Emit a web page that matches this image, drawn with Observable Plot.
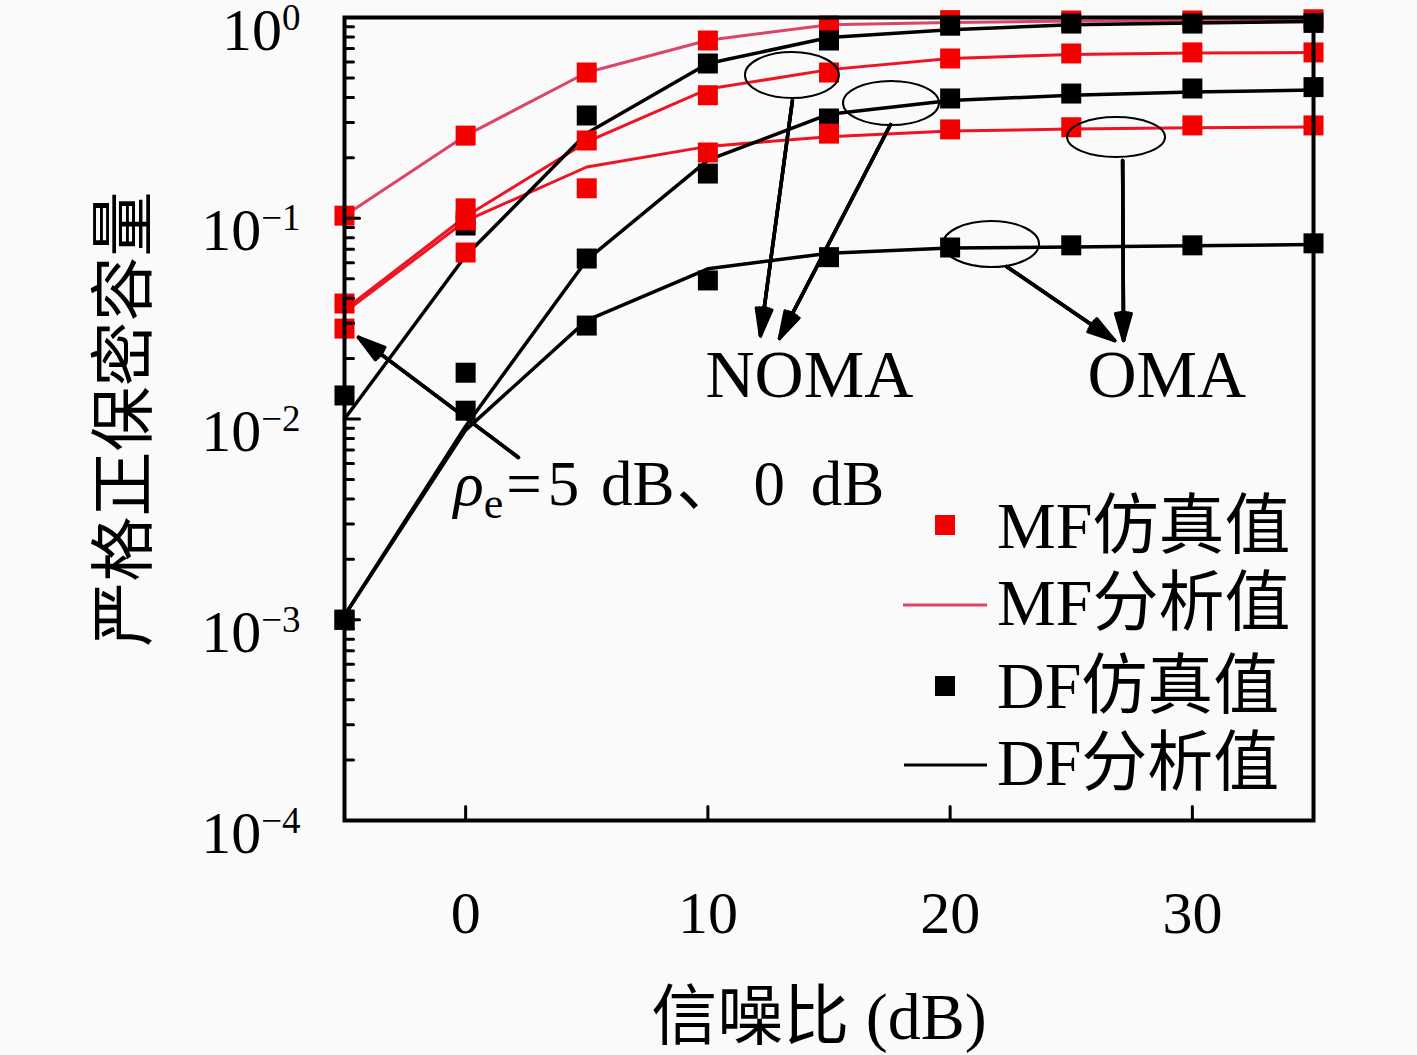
<!DOCTYPE html>
<html><head><meta charset="utf-8">
<script src="https://cdn.jsdelivr.net/npm/d3@7"></script>
<script src="https://cdn.jsdelivr.net/npm/@observablehq/plot@0.6"></script>
<style>
html,body{margin:0;padding:0;background:#fafafa;}
#chart{width:1417px;height:1055px;}
</style></head><body><div id="chart"></div>
<script>
// ---- data ----
const snr = [-5, 0, 5, 10, 15, 20, 25, 30, 35];
// MF analytic curves (red lines)
const mfAnaA = [0.103, 0.258, 0.532, 0.77, 0.92, 0.944, 0.96, 0.965, 0.97];
const mfAnaB = [0.035, 0.102, 0.24, 0.44, 0.55, 0.625, 0.655, 0.665, 0.67];
const mfAnaC = [0.034, 0.097, 0.18, 0.228, 0.255, 0.272, 0.278, 0.282, 0.285];
// DF analytic curves (black lines)
const dfAnaA = [0.0100, 0.065, 0.265, 0.59, 0.795, 0.87, 0.92, 0.94, 0.955];
const dfAnaB = [0.00105, 0.0092, 0.062, 0.195, 0.33, 0.386, 0.41, 0.425, 0.435];
const dfAnaC = [0.00105, 0.0088, 0.031, 0.056, 0.067, 0.071, 0.072, 0.073, 0.074];
// MF simulation (red squares)
const mfSimA = [0.103, 0.258, 0.532, 0.768, 0.912, 0.97, 0.966, 0.966, 0.98];
const mfSimB = [0.0376, 0.112, 0.244, 0.41, 0.532, 0.625, 0.662, 0.67, 0.67];
const mfSimC = [0.0282, 0.0675, 0.141, 0.2126, 0.264, 0.277, 0.284, 0.29, 0.29];
const mfSimExtraX = [0];
const mfSimExtraY = [0.0975];
// DF simulation (black squares)
const dfSimA = [0.0131, 0.092, 0.325, 0.59, 0.768, 0.91, 0.933, 0.933, 0.94];
const dfSimB = [0.001, 0.017, 0.063, 0.167, 0.314, 0.395, 0.418, 0.443, 0.45];
const dfSimC = [0.001, 0.011, 0.0292, 0.049, 0.064, 0.0715, 0.0733, 0.0733, 0.075];
// ticks
const xTicks = [0, 10, 20, 30];
const yMajor = [1e-4, 1e-3, 1e-2, 1e-1, 1];
const yMinor = [];
for (let e = -4; e < 0; e++) for (let k = 2; k <= 9; k++) yMinor.push(k * Math.pow(10, e));
// annotations (data coordinates)
const annoLabels = ["NOMA", "OMA", "ρe=5 dB、0 dB"];
const annoX = [9.9, 25.67, -0.5];
const annoY = [0.0128, 0.0128, 0.00371];
const arrowX1 = [13.49, 17.54, 27.12, 22.33, 2.18];
const arrowY1 = [0.386, 0.293, 0.194, 0.0575, 0.00643];
const arrowX2 = [12.17, 12.96, 27.16, 26.79, -4.42];
const arrowY2 = [0.026, 0.0252, 0.0246, 0.0246, 0.0255];
const ellX = [13.49, 17.58, 26.87, 21.71];
const ellY = [0.514, 0.373, 0.2525, 0.074];
// legend
const legendLabels = ["MF仿真值", "MF分析值", "DF仿真值", "DF分析值"];
const xLabel = "信噪比 (dB)";
const yLabel = "严格正保密容量";

// ---- helpers ----
const rows = (xs, ys) => xs.map((x, i) => ({x, y: ys[i]}));
const RED_LINE_A = "#dc4468", RED_LINE = "#ee1424", RED_DOT = "#f40000";
const SERIF = "'Liberation Serif','Noto Sans CJK SC',serif";
const sq = 20 / Math.sqrt(Math.PI);
const tickShape = {draw(context, l) { context.moveTo(0, 0); context.lineTo(0, -l); }};

const arrows = arrowX1.map((x1, i) => ({x1, y1: arrowY1[i], x2: arrowX2[i], y2: arrowY2[i]}));
const arrowOpts = {x1: "x1", y1: "y1", x2: "x2", y2: "y2", stroke: "black", strokeWidth: 3.5, headLength: 12};
const annos = annoLabels.map((t, i) => ({t, x: annoX[i], y: annoY[i]}));

const svg = Plot.plot({
  width: 1417, height: 1055,
  marginLeft: 344, marginRight: 104, marginTop: 17, marginBottom: 235,
  style: {background: "transparent", fontFamily: SERIF, overflow: "visible"},
  x: {domain: [-5, 35]},
  y: {type: "log", domain: [1e-4, 1]},
  marks: [
    Plot.line(rows(snr, mfAnaA), {x: "x", y: "y", stroke: RED_LINE_A, strokeWidth: 3}),
    Plot.line(rows(snr, mfAnaB), {x: "x", y: "y", stroke: RED_LINE, strokeWidth: 3}),
    Plot.line(rows(snr, mfAnaC), {x: "x", y: "y", stroke: RED_LINE, strokeWidth: 3}),
    Plot.line(rows(snr, dfAnaA), {x: "x", y: "y", stroke: "black", strokeWidth: 3.5}),
    Plot.line(rows(snr, dfAnaB), {x: "x", y: "y", stroke: "black", strokeWidth: 3.5}),
    Plot.line(rows(snr, dfAnaC), {x: "x", y: "y", stroke: "black", strokeWidth: 3.5}),
    Plot.dot(rows(snr, mfSimA), {x: "x", y: "y", symbol: "square", r: sq, fill: RED_DOT}),
    Plot.dot(rows(snr, dfSimA), {x: "x", y: "y", symbol: "square", r: sq, fill: "black"}),
    Plot.dot(rows(snr, dfSimB), {x: "x", y: "y", symbol: "square", r: sq, fill: "black"}),
    Plot.dot(rows(snr, dfSimC), {x: "x", y: "y", symbol: "square", r: sq, fill: "black"}),
    Plot.dot(rows(snr, mfSimB), {x: "x", y: "y", symbol: "square", r: sq, fill: RED_DOT}),
    Plot.dot(rows(snr, mfSimC), {x: "x", y: "y", symbol: "square", r: sq, fill: RED_DOT}),
    Plot.dot(rows(mfSimExtraX, mfSimExtraY), {x: "x", y: "y", symbol: "square", r: sq, fill: RED_DOT}),
    // inward ticks
    Plot.vector(yMajor, {y: d => d, frameAnchor: "left", rotate: 90, length: 15, anchor: "start", shape: tickShape, stroke: "black", strokeWidth: 3}),
    Plot.vector(yMinor, {y: d => d, frameAnchor: "left", rotate: 90, length: 9, anchor: "start", shape: tickShape, stroke: "black", strokeWidth: 3}),
    Plot.vector(xTicks, {x: d => d, frameAnchor: "bottom", rotate: 0, length: 14, anchor: "start", shape: tickShape, stroke: "black", strokeWidth: 3}),
    Plot.axisY({ticks: yMajor, anchor: "left", tickSize: 0, tickPadding: 44, fontSize: 60, dy: 13,
      tickFormat: d => "10^" + Math.round(Math.log10(d)), label: null}),
    Plot.axisX({ticks: xTicks, anchor: "bottom", tickSize: 0, tickPadding: 70, fontSize: 60,
      tickFormat: d => String(d), label: null}),
    Plot.frame({stroke: "black", strokeWidth: 4}),
    // axis titles
    Plot.text([xLabel], {text: d => d, frameAnchor: "bottom", dx: -10, dy: 218, lineAnchor: "bottom", fontSize: 66, fill: "black"}),
    Plot.text([yLabel], {text: d => d, frameAnchor: "left", dx: -219, rotate: -90, lineAnchor: "middle", textAnchor: "middle", fontSize: 65, fill: "black"}),
    // annotations
    Plot.arrow(arrows, {...arrowOpts, headAngle: 32}),
    Plot.arrow(arrows, {...arrowOpts, headAngle: 20}),
    Plot.arrow(arrows, {...arrowOpts, headAngle: 9}),
    Plot.text(annos, {x: "x", y: "y", text: "t", textAnchor: "start", lineAnchor: "bottom",
      fontSize: (d) => d.t.startsWith("ρ") ? 63 : 68, fill: "black"})
  ]
});

const root = d3.select(svg);
// superscript exponents on y tick labels
root.selectAll('g[aria-label="y-axis tick label"] text').each(function () {
  const t = this.textContent;
  if (!t.includes("^")) return;
  const [b, e] = t.split("^");
  const s = d3.select(this);
  s.text(null);
  s.append("tspan").text(b);
  s.append("tspan").attr("font-size", 37).attr("dy", -20).text(e.replace("-", "\u2212"));
});
// subscript e and math spacing in the rho label
root.selectAll("text").each(function () {
  if (this.textContent !== "ρe=5 dB、0 dB") return;
  const s = d3.select(this);
  s.text(null);
  s.append("tspan").attr("font-style", "italic").text("ρ");
  s.append("tspan").attr("font-size", 44).attr("dy", 13).text("e");
  s.append("tspan").attr("dy", -13).attr("dx", 3).text("=");
  s.append("tspan").attr("dx", 6).text("5");
  s.append("tspan").attr("dx", 6).text(" dB");
  s.append("tspan").attr("dx", 2).text("、");
  s.append("tspan").attr("dx", 14).text("0");
  s.append("tspan").attr("dx", 10).text(" dB");
});
// ellipses placed with the plot scales
const xs = svg.scale("x"), ys = svg.scale("y");
const ellRx = [47, 48, 49, 48], ellRy = [23, 22, 20, 23];
const eg = root.append("g");
ellX.forEach((x, i) => {
  eg.append("ellipse").attr("cx", xs.apply(x)).attr("cy", ys.apply(ellY[i]))
    .attr("rx", ellRx[i]).attr("ry", ellRy[i])
    .attr("fill", "none").attr("stroke", "black").attr("stroke-width", 2);
});
// legend
const lg = root.append("g").attr("font-family", SERIF).attr("font-size", 66)
  .attr("fill", "black").attr("text-anchor", "start");
const lgBase = [548, 625, 708, 785];
lg.append("rect").attr("x", 935).attr("y", 515).attr("width", 20).attr("height", 20).attr("fill", RED_DOT);
lg.append("line").attr("x1", 903).attr("x2", 987).attr("y1", 605).attr("y2", 605).attr("stroke", RED_LINE_A).attr("stroke-width", 3);
lg.append("rect").attr("x", 935).attr("y", 676).attr("width", 20).attr("height", 20).attr("fill", "black");
lg.append("line").attr("x1", 904).attr("x2", 987).attr("y1", 765).attr("y2", 765).attr("stroke", "black").attr("stroke-width", 3);
legendLabels.forEach((t, i) => {
  lg.append("text").attr("x", 997).attr("y", lgBase[i]).attr("text-anchor", "start").text(t);
});

document.getElementById("chart").appendChild(svg);
</script>
</body></html>
